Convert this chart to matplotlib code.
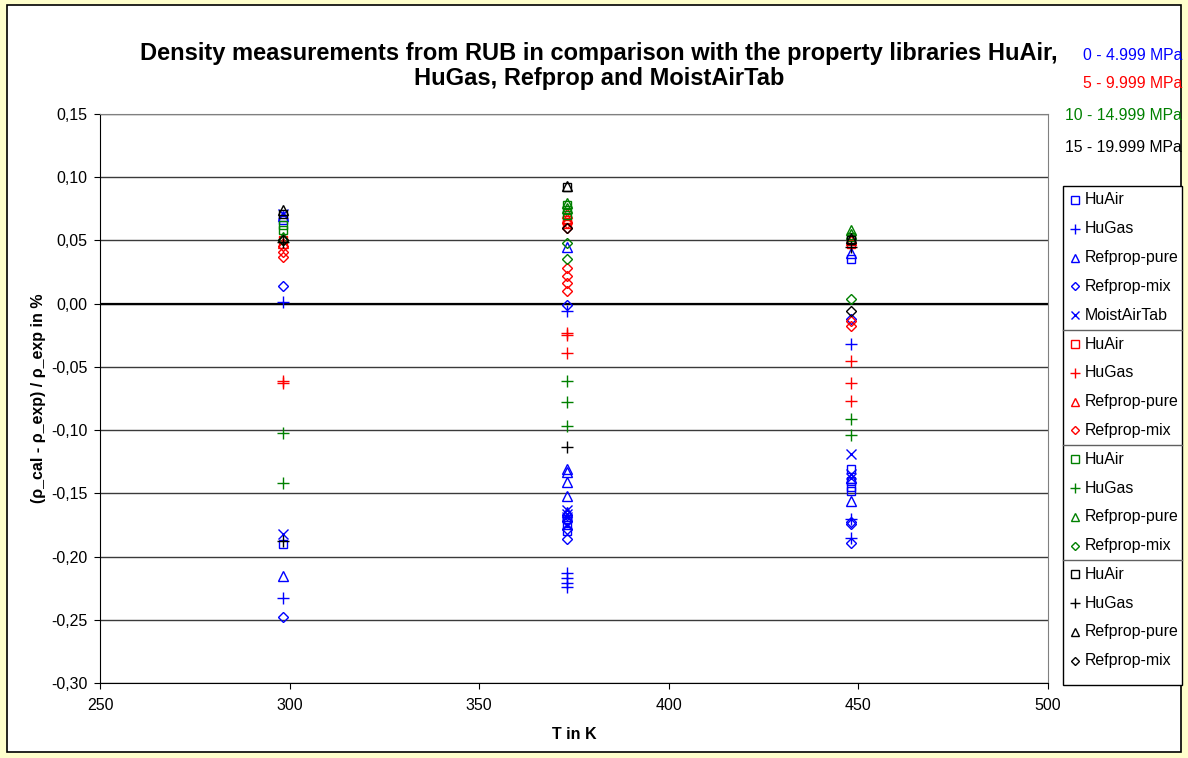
import matplotlib
matplotlib.use("Agg")
import matplotlib.pyplot as plt
from matplotlib.lines import Line2D
from matplotlib.patches import Rectangle
from matplotlib.ticker import FuncFormatter

plt.rcParams["font.family"] = ["Liberation Sans", "DejaVu Sans"]

# measurement temperatures in K
temps = [298.15, 373.15, 448.15]

# deviations in %, one list per temperature (298 K, 373 K, 448 K)
blue_series = {
    "HuAir": ([0.066, -0.190], [-0.170, -0.175, -0.180], [0.035, -0.131, -0.140, -0.145, -0.148]),
    "HuGas": ([0.001, -0.233], [-0.006, -0.213, -0.217, -0.221, -0.224], [-0.032, -0.170, -0.185]),
    "Refprop-pure": ([0.069, -0.215], [0.045, -0.131, -0.133, -0.141, -0.152, -0.165], [0.040, -0.138, -0.156]),
    "Refprop-mix": ([0.014, -0.248], [-0.001, -0.167, -0.172, -0.178, -0.186], [-0.012, -0.173, -0.174, -0.189]),
    "MoistAirTab": ([0.071, -0.182], [-0.163, -0.166, -0.169, -0.175], [-0.119, -0.135, -0.138]),
}
red_series = {
    "HuAir": ([0.050], [0.063, 0.066], [0.047]),
    "HuGas": ([-0.061, -0.063], [-0.023, -0.025, -0.039], [-0.045, -0.063, -0.077]),
    "Refprop-pure": ([0.048], [0.068, 0.072], [0.050]),
    "Refprop-mix": ([0.037, 0.041, 0.046], [0.028, 0.022, 0.016, 0.010, 0.060, 0.064], [-0.014, -0.018]),
}
green_series = {
    "HuAir": ([0.062, 0.058], [0.078, 0.074, 0.070], [0.053]),
    "HuGas": ([-0.102, -0.142], [-0.061, -0.078, -0.097], [-0.091, -0.104]),
    "Refprop-pure": ([0.053], [0.080, 0.076], [0.058, 0.055]),
    "Refprop-mix": ([0.050], [0.048, 0.035], [0.004]),
}
black_series = {
    "HuAir": ([0.071], [0.092], [0.050]),
    "HuGas": ([0.049, -0.188], [-0.113], [0.045]),
    "Refprop-pure": ([0.074], [0.093], [0.052]),
    "Refprop-mix": ([0.050], [0.060], [-0.006]),
}

pressure_labels = ["0 - 4.999 MPa", "5 - 9.999 MPa", "10 - 14.999 MPa", "15 - 19.999 MPa"]
group_colors = ["#0000FF", "#FF0000", "#008000", "#000000"]
groups = [blue_series, red_series, green_series, black_series]

markers = {
    "HuAir": dict(marker="s", ms=6),
    "HuGas": dict(marker="+", ms=8),
    "Refprop-pure": dict(marker="^", ms=6.5),
    "Refprop-mix": dict(marker="D", ms=5),
    "MoistAirTab": dict(marker="x", ms=6.5),
}

W, H = 1188, 758
fig = plt.figure(figsize=(W / 100, H / 100), dpi=100, facecolor="#FFFFCC")

# white chart area with black border
fig.add_artist(Rectangle((7 / W, 1 - 752 / H), 1174 / W, 747 / H, transform=fig.transFigure,
                         facecolor="white", edgecolor="black", lw=1.2, zorder=0))

ax = fig.add_axes([100 / W, 1 - 683 / H, 948 / W, 569 / H])
ax.set_facecolor("white")

for series, color in zip(groups, group_colors):
    for name, vals in series.items():
        xs, ys = [], []
        for t, v in zip(temps, vals):
            xs += [t] * len(v)
            ys += v
        st = markers[name]
        ax.plot(xs, ys, linestyle="none", marker=st["marker"], ms=st["ms"],
                mfc="none", mec=color, mew=1.0, zorder=3)

ax.set_xlim(250, 500)
ax.set_ylim(-0.30, 0.15)
ax.set_xticks([250, 300, 350, 400, 450, 500])
ax.set_yticks([-0.30, -0.25, -0.20, -0.15, -0.10, -0.05, 0.0, 0.05, 0.10, 0.15])
ax.yaxis.set_major_formatter(FuncFormatter(lambda v, p: f"{v:.2f}".replace(".", ",").replace("-0,00", "0,00")))
ax.tick_params(labelsize=11.5, direction="out", length=4, color="black")
ax.tick_params(axis="x", pad=7)
ax.tick_params(axis="y", pad=5)
ax.grid(axis="y", color="#3a3a3a", lw=1.0, zorder=1)
ax.axhline(0, color="black", lw=1.6, zorder=2)
for s in ["top", "right"]:
    ax.spines[s].set_color("#808080")
ax.spines["left"].set_color("black")
ax.spines["bottom"].set_color("black")

ax.set_xlabel("T in K", fontsize=11.5, fontweight="bold", labelpad=10)
ax.set_ylabel("(ρ_cal - ρ_exp) / ρ_exp in %", fontsize=11.5, fontweight="bold", labelpad=4)

fig.text(599 / W, 1 - 66 / H,
         "Density measurements from RUB in comparison with the property libraries HuAir,\nHuGas, Refprop and MoistAirTab",
         ha="center", va="center", fontsize=17, fontweight="bold", linespacing=1.1)

# pressure range labels
label_rows = [55, 83, 116, 148]
for lab, c, yy in zip(pressure_labels, group_colors, label_rows):
    fig.text(1182 / W, 1 - yy / H, lab, color=c, ha="right", va="center", fontsize=11.3)

# legend drawn as boxed groups
lx0, lx1 = 1063, 1182
top = 186
step = 28.8
fig.add_artist(Rectangle((lx0 / W, 1 - 685 / H), (lx1 - lx0) / W, (685 - top) / H,
                         transform=fig.transFigure, facecolor="white", edgecolor="black", lw=1.0, zorder=4))
y = top + 14
for gi, (series, color) in enumerate(zip(groups, group_colors)):
    for name in series:
        st = markers[name]
        fig.add_artist(Line2D([1075 / W], [1 - y / H], transform=fig.transFigure, linestyle="none",
                              marker=st["marker"], ms=st["ms"] * 0.9, mfc="none", mec=color, mew=1.0, zorder=5))
        fig.text(1085 / W, 1 - y / H, name, ha="left", va="center", fontsize=11.4, zorder=5)
        y += step
    if gi < 3:
        yd = y - step / 2
        fig.add_artist(Line2D([lx0 / W, lx1 / W], [1 - yd / H, 1 - yd / H], transform=fig.transFigure,
                              color="#606060", lw=1.0, zorder=5))

fig.savefig("out.png", dpi=100, facecolor=fig.get_facecolor())
